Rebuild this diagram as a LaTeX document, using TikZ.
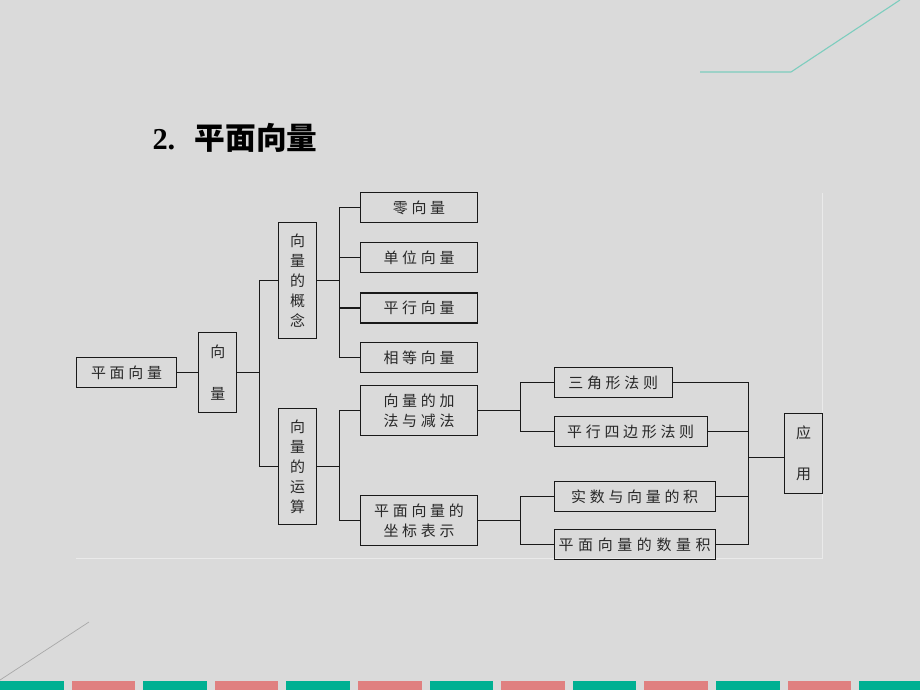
\documentclass[tikz,border=0pt]{standalone}
\usepackage{fontspec}
\setmainfont{Liberation Serif}
\newfontfamily\cjk{Noto Sans CJK SC}
\newfontfamily\cjksp[LetterSpace=25]{Noto Sans CJK SC}
\newfontfamily\cjkwide[LetterSpace=31]{Noto Sans CJK SC}
\usetikzlibrary{positioning}
\definecolor{bgc}{RGB}{218,218,218}
\definecolor{lnc}{RGB}{25,25,25}
\definecolor{txc}{RGB}{40,40,40}
\definecolor{panelc}{RGB}{234,234,234}
\definecolor{tealc}{RGB}{0,176,146}
\definecolor{pinkc}{RGB}{224,128,128}
\definecolor{decoc}{RGB}{125,205,190}
\definecolor{grayln}{RGB}{168,168,168}

\begin{document}
\begin{tikzpicture}[x=1bp,y=-1bp,
    box/.style={rectangle, draw=lnc, line width=1.3bp, inner sep=0bp, align=center, text=txc,
      minimum height=30bp, font=\cjksp\fontsize{15}{20}\selectfont},
    leaf/.style={box, minimum width=117bp},
    vbox/.style={box, minimum width=38bp, font=\cjk\fontsize{15}{20}\selectfont},
    conn/.style={draw=lnc, line width=1.25bp}]
    \fill[bgc] (0,0) rectangle (920,690);
    \useasboundingbox (0,0) rectangle (920,690);

    \draw[decoc, line width=1.1bp] (700,72) -- (791,72) -- (900,0);
    \draw[grayln, line width=0.7bp] (0,680) -- (89,622);
    \foreach \i in {0,...,12} {
        \pgfmathsetmacro{\xa}{71.6*\i}
        \ifodd\i \def\stripc{pinkc}\else \def\stripc{tealc}\fi
        \fill[\stripc] (\xa,680.5) rectangle (\xa+63.5,690);
    }
    \draw[panelc, line width=1bp] (76,558.5) -- (822.5,558.5) -- (822.5,192.5);

    \node[anchor=west, font=\fontsize{30.5}{31}\selectfont] (title) at (149,137.5)
        {\textbf{2.}\hspace{19.5bp}{\cjk\bfseries\fontsize{30.8}{31}\selectfont 平面向量}};

    \node[box, minimum width=100bp] (main) at (126.5,372.5) {平面向量};
    \node[vbox, minimum height=80bp, font=\cjk\fontsize{15}{42}\selectfont] (xl) [right=21bp of main] {向\\量};
    \node[vbox, minimum height=116bp] (gn) at (297.5,280.5) {向\\量\\的\\概\\念};
    \node[vbox, minimum height=116bp] (ys) [below=69bp of gn] {向\\量\\的\\运\\算};

    \node[leaf] (l1) at (419,207.5) {零向量};
    \node[leaf] (l2) [below=19bp of l1] {单位向量};
    \node[leaf] (l3) [below=19bp of l2] {平行向量};
    \node[leaf] (l4) [below=18bp of l3] {相等向量};

    \node[box, minimum width=117bp, minimum height=50bp] (jf) at (419,410.5) {向量的加\\法与减法};
    \node[box, minimum width=117bp, minimum height=50bp] (zb) [below=59bp of jf] {平面向量的\\坐标表示};

    \node[box, minimum width=118bp, anchor=west] (sj) at (553.5,382.5) {三角形法则};
    \node[box, minimum width=153bp] (px) [below right=18bp and 0bp of sj.south west] {平行四边形法则};
    \node[box, minimum width=161bp, anchor=west] (ss) at (553.5,496.5) {实数与向量的积};
    \node[box, minimum width=161bp, font=\cjkwide\fontsize{15}{20}\selectfont]
        (sl) [below right=17bp and 0bp of ss.south west] {平面向量的数量积};

    \node[vbox, minimum height=80bp, font=\cjk\fontsize{15}{41}\selectfont] (yy) at (803.5,453.5) {应\\用};

    \draw[conn] (main) -- (xl);
    \coordinate (b1) at ([xshift=22bp]xl.east);
    \draw[conn] (xl.east) -- (b1);
    \draw[conn] (gn.west) -| (b1) |- (ys.west);

    \coordinate (b2) at ([xshift=22bp]gn.east);
    \draw[conn] (gn.east) -- (b2);
    \draw[conn] (l1.west) -| (b2) |- (l4.west);
    \draw[conn] (l2.west) -- (b2 |- l2.west);
    \draw[conn] (l3.west) -- (b2 |- l3.west);

    \coordinate (b3) at ([xshift=22bp]ys.east);
    \draw[conn] (ys.east) -- (b3);
    \draw[conn] (jf.west) -| (b3) |- (zb.west);

    \coordinate (b4) at ([xshift=42bp]jf.east);
    \draw[conn] (jf.east) -- (b4);
    \draw[conn] (sj.west) -| (b4) |- (px.west);
    \coordinate (b4b) at ([xshift=42bp]zb.east);
    \draw[conn] (zb.east) -- (b4b);
    \draw[conn] (ss.west) -| (b4b) |- (sl.west);

    \coordinate (yyin) at ([yshift=-4bp]yy.west);
    \coordinate (b5) at ([xshift=-35bp]yyin);
    \draw[conn] (yyin) -- (b5);
    \draw[conn] (sj.east) -| (b5) |- (sl.east);
    \draw[conn] (px.east) -- (b5 |- px.east);
    \draw[conn] (ss.east) -- (b5 |- ss.east);
\end{tikzpicture}
\end{document}
